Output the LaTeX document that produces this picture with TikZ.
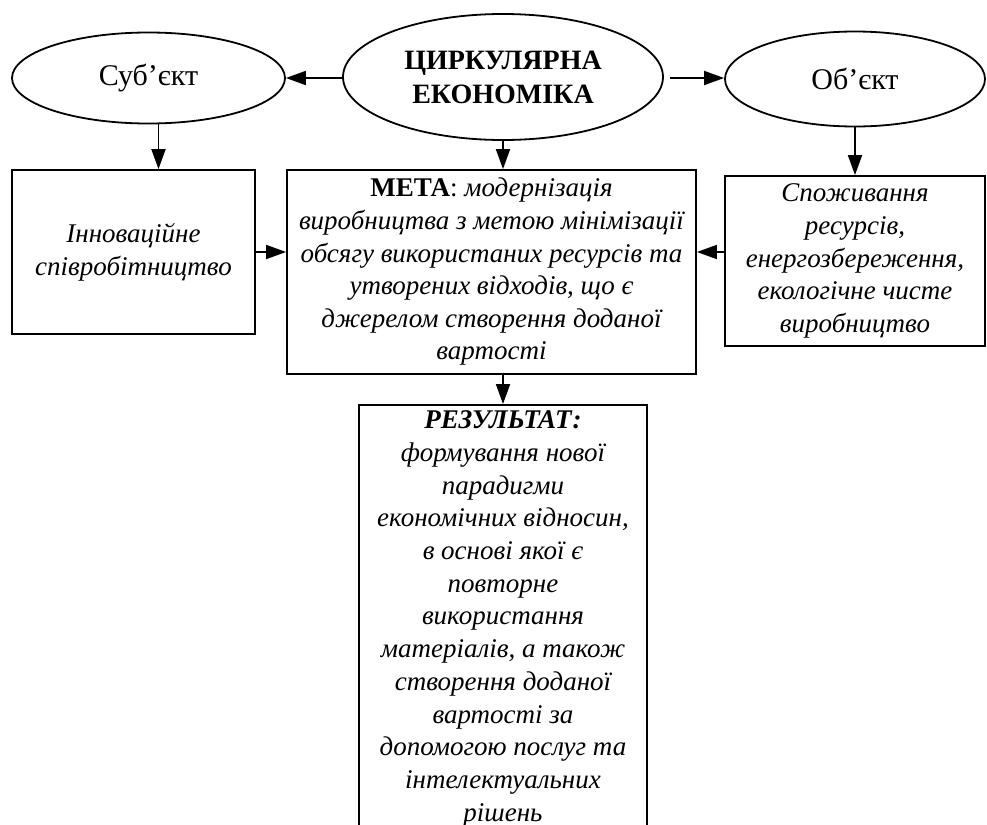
\documentclass[tikz,border=0pt]{standalone}
\usepackage{fontspec}
\setmainfont{Liberation Serif}
\usetikzlibrary{arrows.meta, positioning, shapes.geometric}

\begin{document}
\begin{tikzpicture}[
  x=0.5pt, y=-0.5pt,
  oval/.style={draw, ellipse, line width=0.9pt, inner sep=0pt, align=center},
  box/.style={draw, rectangle, line width=0.9pt, inner sep=4pt, align=center,
    font=\fontsize{13.5}{16.3}\selectfont\itshape},
  arr/.style={-{Triangle[length=10pt, width=7pt]}, line width=0.9pt}
]
  \clip (0,0) rectangle (987,825);
  % Ellipses
  \node[oval, minimum width=136.5pt, minimum height=45.5pt,
    font=\fontsize{15}{18}\selectfont] (subj) at (148.5,78) {Суб’єкт};
  \node[oval, minimum width=160pt, minimum height=63pt,
    font=\fontsize{14}{17}\selectfont\bfseries] (circ) at (503,77)
    {ЦИРКУЛЯРНА\\ЕКОНОМІКА};
  \node[oval, minimum width=130pt, minimum height=47.5pt,
    font=\fontsize{15}{18}\selectfont] (obj) at (855,79) {Об’єкт};
  % Boxes
  \node[box, minimum width=121.5pt, minimum height=82pt] (lbox)
    at (133.5,252) {Інноваційне\\співробітництво};
  \node[box, minimum width=204.5pt, minimum height=102pt] (meta)
    at (491.5,272)
    {{\upshape\bfseries МЕТА}{\upshape:} модернізація\\
     виробництва з метою мінімізації\\
     обсягу використаних ресурсів та\\
     утворених відходів, що є\\
     джерелом створення доданої\\
     вартості};
  \node[box, minimum width=130pt, minimum height=85pt] (rbox)
    at (855,261)
    {Споживання\\ресурсів,\\енергозбереження,\\екологічне чисте\\виробництво};
  % Result
  \node[box, anchor=north, minimum width=144pt, inner ysep=3pt,
    font=\fontsize{13.5}{16.35}\selectfont\itshape] (res)
    at (503,404)
    {\textbf{РЕЗУЛЬТАТ:}\\
     формування нової\\
     парадигми\\
     економічних відносин,\\
     в основі якої є\\
     повторне\\
     використання\\
     матеріалів, а також\\
     створення доданої\\
     вартості за\\
     допомогою послуг та\\
     інтелектуальних\\
     рішень};
  % Arrows
  \coordinate (sa) at ([xshift=5pt]subj.south);
  \draw[arr] (circ.west |- subj.east) -- (subj.east);
  \draw[arr] ([xshift=3pt]circ.east |- subj.east) -- (obj.west |- subj.east);
  \draw[arr] (sa) -- (sa |- lbox.north);
  \draw[arr] (circ.south) -- (circ.south |- meta.north);
  \draw[arr] (obj.south) -- (obj.south |- rbox.north);
  \draw[arr] (lbox.east) -- (lbox.east -| meta.west);
  \draw[arr] (rbox.west |- lbox.east) -- (meta.east |- lbox.east);
  \draw[arr] (meta.south -| res.north) -- (res.north);
\end{tikzpicture}
\end{document}
